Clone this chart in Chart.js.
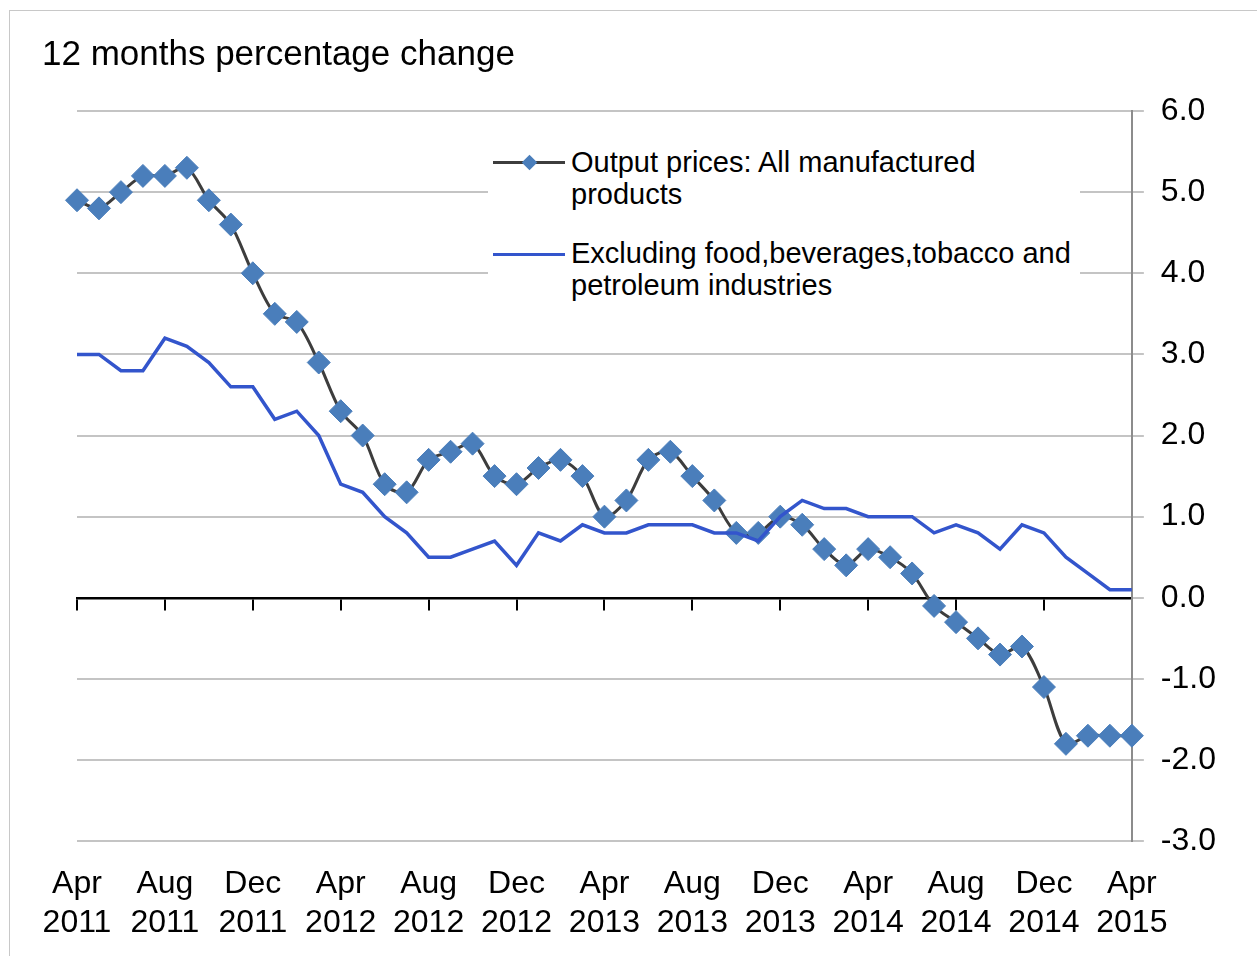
<!DOCTYPE html>
<html>
<head>
<meta charset="utf-8">
<script src="https://cdn.jsdelivr.net/npm/chart.js@4.4.0/dist/chart.umd.min.js"></script>
<style>
  body { margin: 0; overflow: hidden; background: #fff; font-family: "Liberation Sans", Arial, sans-serif; }
  #frame { position: absolute; left: 9px; top: 10px; width: 1300px; height: 1000px; border: 1px solid #c8c8c8; }
  #wrap { position: absolute; left: 0; top: 0; width: 1257px; height: 966px; }
  #legend { position: absolute; left: 488px; top: 140px; width: 592px; height: 165px; background: #fff; }
  .swatch { position: absolute; left: 5px; width: 72px; height: 3px; }
  .diamond { position: absolute; left: 36px; width: 11px; height: 11px; background: #4a7ebb; transform: rotate(45deg); }
  .txt { position: absolute; left: 83px; font-size: 29px; line-height: 32px; color: #000; white-space: nowrap; }
</style>
</head>
<body>
<div id="frame"></div>
<div id="wrap"><canvas id="chart" width="1257" height="966"></canvas></div>
<div id="legend">
  <div class="swatch" style="top:21px;background:#3d3d3d"></div>
  <div class="diamond" style="top:17px"></div>
  <div class="txt" style="top:6px">Output prices: All manufactured<br>products</div>
  <div class="swatch" style="top:113px;background:#3355cc"></div>
  <div class="txt" style="top:97px">Excluding food,beverages,tobacco and<br>petroleum industries</div>
</div>
<script>
const months = [
	"Apr 2011", "May 2011", "Jun 2011", "Jul 2011", "Aug 2011", "Sep 2011", "Oct 2011", "Nov 2011", "Dec 2011", "Jan 2012", "Feb 2012", "Mar 2012",
	"Apr 2012", "May 2012", "Jun 2012", "Jul 2012", "Aug 2012", "Sep 2012", "Oct 2012", "Nov 2012", "Dec 2012", "Jan 2013", "Feb 2013", "Mar 2013",
	"Apr 2013", "May 2013", "Jun 2013", "Jul 2013", "Aug 2013", "Sep 2013", "Oct 2013", "Nov 2013", "Dec 2013", "Jan 2014", "Feb 2014", "Mar 2014",
	"Apr 2014", "May 2014", "Jun 2014", "Jul 2014", "Aug 2014", "Sep 2014", "Oct 2014", "Nov 2014", "Dec 2014", "Jan 2015", "Feb 2015", "Mar 2015",
	"Apr 2015"
];

const outputPrices = [
	4.9, 4.8, 5.0, 5.2, 5.2, 5.3, 4.9, 4.6, 4.0, 3.5, 3.4, 2.9,
	2.3, 2.0, 1.4, 1.3, 1.7, 1.8, 1.9, 1.5, 1.4, 1.6, 1.7, 1.5,
	1.0, 1.2, 1.7, 1.8, 1.5, 1.2, 0.8, 0.8, 1.0, 0.9, 0.6, 0.4,
	0.6, 0.5, 0.3, -0.1, -0.3, -0.5, -0.7, -0.6, -1.1, -1.8, -1.7, -1.7,
	-1.7
];

const excludingFood = [
	3.0, 3.0, 2.8, 2.8, 3.2, 3.1, 2.9, 2.6, 2.6, 2.2, 2.3, 2.0,
	1.4, 1.3, 1.0, 0.8, 0.5, 0.5, 0.6, 0.7, 0.4, 0.8, 0.7, 0.9,
	0.8, 0.8, 0.9, 0.9, 0.9, 0.8, 0.8, 0.7, 1.0, 1.2, 1.1, 1.1,
	1.0, 1.0, 1.0, 0.8, 0.9, 0.8, 0.6, 0.9, 0.8, 0.5, 0.3, 0.1,
	0.1
];

const yMin = -3;
const yMax = 6;
const fontFamily = '"Liberation Sans", Arial, sans-serif';

let ctx = document.getElementById("chart").getContext("2d");
window.chart = new Chart(ctx, {
	type: "line",
	data: {
		labels: months,
		datasets: [
			{
				label: "Output prices: All manufactured products",
				data: outputPrices,
				borderColor: "#3d3d3d",
				borderWidth: 3,
				pointStyle: "rectRot",
				pointRadius: 11.5,
				pointBackgroundColor: "#4a7ebb",
				pointBorderColor: "#4a7ebb",
				pointBorderWidth: 1,
				tension: 0.3,
				clip: false,
				order: 1
			},
			{
				label: "Excluding food,beverages,tobacco and petroleum industries",
				data: excludingFood,
				borderColor: "#3355cc",
				borderWidth: 3.5,
				pointRadius: 0,
				tension: 0,
				order: 0
			}
		]
	},
	options: {
		responsive: false,
		animation: false,
		layout: { padding: { left: 42, top: 34, right: 24, bottom: 0 } },
		plugins: {
			legend: { display: false },
			tooltip: { enabled: false },
			title: {
				display: true,
				text: "12 months percentage change",
				align: "start",
				color: "#000",
				font: { size: 35, family: fontFamily, weight: "normal" },
				padding: { top: 0, bottom: 35 }
			}
		},
		scales: {
			x: {
				type: "category",
				position: { y: 0 },
				offset: false,
				grid: {
					drawOnChartArea: false,
					drawTicks: true,
					tickLength: 11,
					lineWidth: 2,
					color: (c) => (c.index % 4 === 0 ? "#000" : "rgba(0,0,0,0)")
				},
				border: { color: "#000", width: 2.5 },
				ticks: { display: false, autoSkip: false }
			},
			x2: {
				type: "category",
				position: "bottom",
				offset: false,
				grid: { display: false, drawTicks: false },
				border: { display: false },
				afterFit: (s) => { s.paddingLeft = 77; },
				ticks: {
					autoSkip: false,
					maxRotation: 0,
					padding: 24,
					color: "#000",
					font: { size: 32, family: fontFamily },
					callback: function (v, i) {
						if (i % 4 !== 0) return "";
						return this.getLabelForValue(v).split(" ");
					}
				}
			},
			y: {
				position: "right",
				min: yMin,
				max: yMax,
				ticks: {
					stepSize: 1,
					padding: 17,
					color: "#000",
					font: { size: 32, family: fontFamily },
					callback: (v) => v.toFixed(1)
				},
				grid: { color: "#c4c4c4", lineWidth: 2, tickLength: 12 },
				border: { color: "#8c8c8c", width: 2 }
			}
		}
	}
});
</script>
</body>
</html>
